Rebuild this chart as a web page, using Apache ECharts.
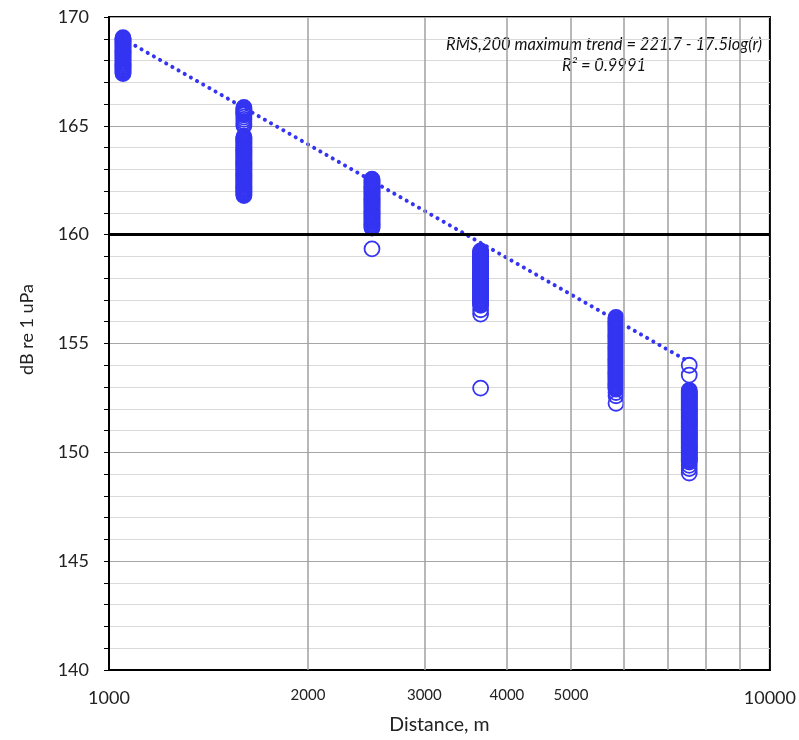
<!DOCTYPE html>
<html>
<head>
<meta charset="utf-8">
<script src="https://cdn.jsdelivr.net/npm/echarts@6/dist/echarts.min.js"></script>
<style>
html,body{margin:0;padding:0;background:#fff;}
#chart{width:799px;height:740px;}
</style>
</head>
<body>
<div id="chart"></div>
<script>
// ---- data ----
var distances = [1050, 1600, 2500, 3650, 5850, 7550];
var levels1050 = [169.05,169.0,168.95,168.9,168.85,168.8,168.75,168.7,168.65,168.6,168.55,168.5,168.45,168.4,168.35,168.3,168.25,168.2,168.15,168.1,168.05,168.0,167.95,167.9,167.85,167.8,167.75,167.7,167.65,167.6,167.55,167.5,167.45,167.4];
var levels1600 = [165.85,165.8,165.75,165.7,165.65,165.6,165.55,165.5,165.4,165.3,165.2,165.1,165.0,
  164.5,164.45,164.4,164.35,164.3,164.25,164.2,164.15,164.1,164.05,164.0,163.95,163.9,163.85,163.8,163.75,163.7,163.65,163.6,163.55,163.5,163.45,163.4,163.35,163.3,163.25,163.2,163.15,163.1,163.05,163.0,162.95,162.9,162.85,162.8,162.75,162.7,162.65,162.6,162.55,162.5,162.45,162.4,162.35,162.3,162.25,162.2,162.15,162.1,162.05,162.0,161.95,161.9,161.85,161.8];
var levels2500 = [162.55,162.5,162.45,162.4,162.35,162.3,162.25,162.2,162.15,162.1,162.05,162.0,161.95,161.9,161.85,161.8,161.75,161.7,161.65,161.6,161.55,161.5,161.45,161.4,161.35,161.3,161.25,161.2,161.15,161.1,161.05,161.0,160.95,160.9,160.85,160.8,160.75,160.7,160.65,160.6,160.55,160.5,160.45,160.4,160.35,160.3,159.35];
var levels3650 = [159.25,159.2,159.15,159.1,159.05,159.0,158.95,158.9,158.85,158.8,158.75,158.7,158.65,158.6,158.55,158.5,158.45,158.4,158.35,158.3,158.25,158.2,158.15,158.1,158.05,158.0,157.95,157.9,157.85,157.8,157.75,157.7,157.65,157.6,157.55,157.5,157.45,157.4,157.35,157.3,157.25,157.2,157.15,157.1,157.05,157.0,156.95,156.9,156.85,156.8,156.75,156.55,156.35,152.95];
var levels5850 = [156.2,156.15,156.1,156.05,156.0,155.95,155.9,155.85,155.8,155.75,155.7,155.65,155.6,155.55,155.5,155.45,155.4,155.35,155.3,155.25,155.2,155.15,155.1,155.05,155.0,154.95,154.9,154.85,154.8,154.75,154.7,154.65,154.6,154.55,154.5,154.45,154.4,154.35,154.3,154.25,154.2,154.15,154.1,154.05,154.0,153.95,153.9,153.85,153.8,153.75,153.7,153.65,153.6,153.55,153.5,153.45,153.4,153.35,153.3,153.25,153.2,153.15,153.1,153.05,153.0,152.95,152.9,152.75,152.6,152.25];
var levels7550 = [154.0,153.55,
  152.85,152.8,152.75,152.7,152.65,152.6,152.55,152.5,152.45,152.4,152.35,152.3,152.25,152.2,152.15,152.1,152.05,152.0,151.95,151.9,151.85,151.8,151.75,151.7,151.65,151.6,151.55,151.5,151.45,151.4,151.35,151.3,151.25,151.2,151.15,151.1,151.05,151.0,150.95,150.9,150.85,150.8,150.75,150.7,150.65,150.6,150.55,150.5,150.45,150.4,150.35,150.3,150.25,150.2,150.15,150.1,150.05,150.0,149.95,149.9,149.85,149.8,149.75,149.7,149.65,149.6,149.55,149.4,149.25,149.05];
var trendX = [1050, 7550];
var trendY = [169.0, 154.15];
var xGridValues = [2000, 3000, 4000, 5000, 6000, 7000, 8000, 9000];
var xGridLabels = ['2000', '3000', '4000', '5000', '', '', '', ''];
var xAxisTitle = 'Distance, m';
var yAxisTitle = 'dB re 1 uPa';
var annotation1 = 'RMS,200 maximum trend = 221.7 - 17.5log(r)';
var annotation2 = 'R\u00B2 = 0.9991';
var refLevel = 160;

// ---- build ----
var allLevels = [levels1050, levels1600, levels2500, levels3650, levels5850, levels7550];
var points = [];
allLevels.forEach(function (arr, i) {
  arr.forEach(function (v) { points.push([distances[i], v]); });
});
var trendData = trendX.map(function (x, i) { return [x, trendY[i]]; });
var blue = '#3434f2';
var FONT = 'Lato, "Open Sans", sans-serif';

var chart = echarts.init(document.getElementById('chart'), null, {renderer: 'canvas'});
chart.setOption({
  animation: false,
  backgroundColor: '#ffffff',
  grid: {left: 109, right: 26, top: 17, bottom: 68, show: true, borderColor: '#000', borderWidth: 2, backgroundColor: 'transparent'},
  xAxis: {
    type: 'log', logBase: 10, min: 1000, max: 10000,
    name: xAxisTitle, nameLocation: 'middle', nameGap: 45,
    nameTextStyle: {fontFamily: FONT, fontSize: 19.5, color: '#222'},
    axisLine: {show: true, lineStyle: {color: '#000', width: 2}},
    axisTick: {show: false},
    splitLine: {show: false},
    axisLabel: {fontFamily: FONT, fontSize: 18, color: '#222', margin: 19,
      formatter: function (v) { return String(Math.round(v)); }}
  },
  yAxis: {
    type: 'value', min: 140, max: 170, interval: 1,
    name: yAxisTitle, nameLocation: 'middle', nameGap: 73, nameRotate: 90,
    nameTextStyle: {fontFamily: FONT, fontSize: 18, color: '#222', padding: [0, 0, 0, 28]},
    axisLine: {show: true, lineStyle: {color: '#000', width: 2}},
    axisTick: {show: true, inside: false, length: 5, lineStyle: {color: '#000', width: 1}},
    splitLine: {show: true, lineStyle: {color: ['#a6a6a6', '#d9d9d9', '#d9d9d9', '#d9d9d9', '#d9d9d9'], width: 1.2}},
    axisLabel: {fontFamily: FONT, fontSize: 18, color: '#222', margin: 20,
      formatter: function (v) { return v % 5 === 0 ? String(v) : ''; }}
  },
  graphic: [
    {type: 'text', x: 604, y: 45, style: {text: annotation1, fontFamily: FONT, fontStyle: 'italic', fontSize: 16.5, fill: '#111', align: 'center', verticalAlign: 'middle', textAlign: 'center', textVerticalAlign: 'middle'}},
    {type: 'text', x: 604, y: 66, style: {text: annotation2, fontFamily: FONT, fontStyle: 'italic', fontSize: 16.5, fill: '#111', align: 'center', verticalAlign: 'middle', textAlign: 'center', textVerticalAlign: 'middle'}}
  ],
  series: [
    {
      type: 'line', data: [], silent: true,
      markLine: {
        silent: true, symbol: 'none', animation: false,
        lineStyle: {color: '#a0a0a0', width: 1.5, type: 'solid'},
        label: {show: true, position: 'start', distance: 18, fontFamily: FONT, fontSize: 15, color: '#222',
          formatter: function (p) { return xGridLabels[p.dataIndex]; }},
        data: xGridValues.map(function (v) { return {xAxis: v}; })
      }
    },
    {
      type: 'line', data: [], silent: true,
      markLine: {
        silent: true, symbol: 'none', animation: false,
        lineStyle: {color: '#000', width: 3, type: 'solid'},
        label: {show: false},
        data: [{yAxis: refLevel}]
      }
    },
    {
      type: 'line', data: trendData, symbol: 'none', silent: true,
      lineStyle: {color: blue, width: 4, type: [0.1, 7], cap: 'round'}
    },
    {
      type: 'scatter', data: points, symbol: 'circle', symbolSize: 15,
      itemStyle: {color: 'rgba(0,0,0,0)', borderColor: blue, borderWidth: 1.8, opacity: 1}
    }
  ]
});
</script>
</body>
</html>
